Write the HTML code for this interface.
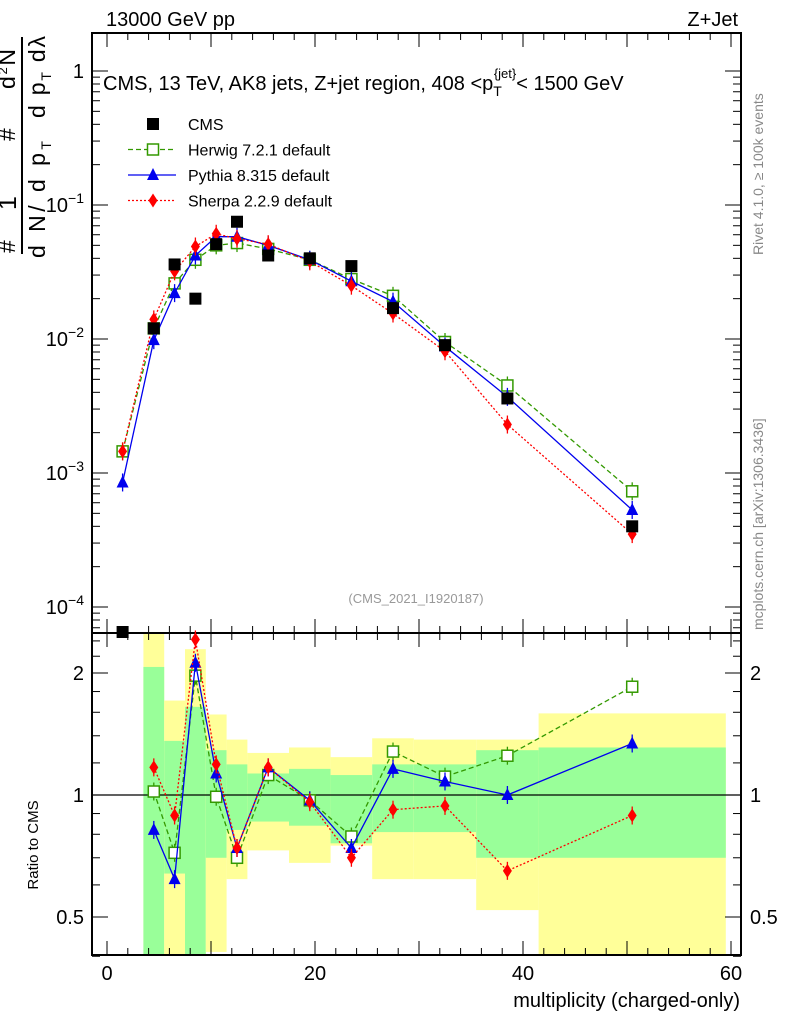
<!DOCTYPE html>
<html><head><meta charset="utf-8"><style>
body{margin:0;background:#fff;}
svg{font-family:"Liberation Sans",sans-serif;display:block}
</style></head><body>
<svg id="c" width="786" height="1024" xmlns="http://www.w3.org/2000/svg">
<text x="106" y="26" font-size="20">13000 GeV pp</text>
<text x="738" y="26" font-size="20" text-anchor="end">Z+Jet</text>
<text x="103" y="90" font-size="20">CMS, 13 TeV, AK8 jets, Z+jet region, 408 &lt;p<tspan font-size="14" dy="6">T</tspan><tspan font-size="13" dy="-18" dx="-8">{jet}</tspan><tspan dy="12">&lt; 1500 GeV</tspan></text>
<text x="416" y="603" font-size="13" fill="#999" text-anchor="middle">(CMS_2021_I1920187)</text>
<text transform="translate(763,255) rotate(-90)" font-size="14" fill="#888">Rivet 4.1.0, ≥ 100k events</text>
<text transform="translate(763,630) rotate(-90)" font-size="14" fill="#888">mcplots.cern.ch [arXiv:1306.3436]</text>
<g font-size="23">
<text transform="translate(15,253) rotate(-90)">#</text>
<text transform="translate(16,210) rotate(-90)" font-size="25">1</text>
<text transform="translate(15,141) rotate(-90)">#</text>
<text transform="translate(15,89) rotate(-90)" textLength="40" lengthAdjust="spacing">d<tspan font-size="13" dy="-8">2</tspan><tspan dy="8">N</tspan></text>
<line x1="22" y1="37" x2="22" y2="254" stroke="#000" stroke-width="2"/>
<text transform="translate(45,258) rotate(-90)" textLength="117" lengthAdjust="spacing">d N/ d p<tspan font-size="14" dy="6">T</tspan></text>
<text transform="translate(45,118) rotate(-90)" textLength="82" lengthAdjust="spacing">d p<tspan font-size="14" dy="6">T</tspan><tspan dy="-6"> dλ</tspan></text>
</g>
<text transform="translate(38,845) rotate(-90)" font-size="15" text-anchor="middle">Ratio to CMS</text>
<text x="740" y="1007" font-size="20" text-anchor="end">multiplicity (charged-only)</text>
<g id="g"></g>
</svg>
<script>
const xs=[1.5,4.5,6.5,8.5,10.5,12.5,15.5,19.5,23.5,27.5,32.5,38.5,50.5];
const cms=[5.5e-5,0.012,0.036,0.020,0.051,0.075,0.042,0.040,0.035,0.017,0.009,0.0036,0.0004];
const herwig=[0.00145,0.012,0.026,0.039,0.050,0.052,0.047,0.039,0.028,0.021,0.0095,0.0045,0.00073];
const pythia=[0.00085,0.0098,0.022,0.042,0.058,0.058,0.050,0.039,0.027,0.019,0.0088,0.0037,0.00053];
const sherpa=[0.00145,0.014,0.032,0.049,0.061,0.056,0.051,0.038,0.025,0.0155,0.0081,0.0023,0.00035];
const rx=[4.5,6.5,8.5,10.5,12.5,15.5,19.5,23.5,27.5,32.5,38.5,50.5];
const rHerwig=[1.02,0.72,1.97,0.99,0.70,1.12,0.97,0.79,1.28,1.11,1.25,1.85];
const rPythia=[0.82,0.62,2.12,1.13,0.74,1.17,0.97,0.74,1.16,1.08,1.0,1.34];
const rSherpa=[1.17,0.89,2.42,1.19,0.74,1.17,0.96,0.70,0.92,0.94,0.65,0.89];
const edges=[3.5,5.5,7.5,9.5,11.5,13.5,17.5,21.5,25.5,29.5,35.5,41.5,59.5];
const yLo=[0.4,0.4,0.4,0.41,0.62,0.73,0.68,0.75,0.62,0.62,0.52,0.4];
const yHi=[2.6,1.71,2.29,1.58,1.37,1.27,1.31,1.24,1.38,1.37,1.37,1.59];
const gLo=[0.4,0.64,0.4,0.70,0.82,0.86,0.84,0.76,0.81,0.81,0.70,0.70];
const gHi=[2.07,1.36,1.65,1.29,1.19,1.13,1.16,1.12,1.19,1.19,1.29,1.31];
const xTicks=[0,20,40,60];
const L=92,R=741,T=33,M=633,B=955;
const X=v=>107+10.4*v;
const Y=v=>71-134*Math.log10(v);
const RY=r=>795-122*Math.log2(r);
const g=document.getElementById('g');let s='';
function cl(y,a,b){return Math.max(a,Math.min(b,y));}
for(let i=0;i<yLo.length;i++){
 const x1=X(edges[i]),x2=X(edges[i+1]);
 const a=cl(RY(yHi[i]),M,B),b=cl(RY(yLo[i]),M,B);
 s+=`<rect x="${x1}" y="${a}" width="${x2-x1}" height="${b-a}" fill="#ffff99"/>`;
 const c=cl(RY(gHi[i]),M,B),d=cl(RY(gLo[i]),M,B);
 s+=`<rect x="${x1}" y="${c}" width="${x2-x1}" height="${d-c}" fill="#99ff99"/>`;
}
s+=`<line x1="${L}" x2="${R}" y1="${RY(1)}" y2="${RY(1)}" stroke="#000" stroke-width="1.3"/>`;
s+=`<rect x="${L}" y="${T}" width="${R-L}" height="${M-T}" fill="none" stroke="#000" stroke-width="2"/>`;
s+=`<rect x="${L}" y="${M}" width="${R-L}" height="${B-M}" fill="none" stroke="#000" stroke-width="2"/>`;
for(let v=0;v<=60;v+=2){const big=v%10==0;const h=big?14:7;const x=X(v);
 s+=`<line x1="${x}" x2="${x}" y1="${T}" y2="${T+h}" stroke="#000"/><line x1="${x}" x2="${x}" y1="${M-h}" y2="${M+h}" stroke="#000"/><line x1="${x}" x2="${x}" y1="${B}" y2="${B-h}" stroke="#000"/>`;}
xTicks.forEach(v=>{s+=`<text x="${X(v)}" y="980" font-size="20" text-anchor="middle">${v}</text>`;});
for(let e=-5;e<=0;e++){for(let k=1;k<10;k++){const v=k*Math.pow(10,e);const y=Y(v);if(y<T||y>M)continue;
 const w=k==1?16:8;s+=`<line x1="${L}" x2="${L+w}" y1="${y}" y2="${y}" stroke="#000"/><line x1="${R}" x2="${R-w}" y1="${y}" y2="${y}" stroke="#000"/>`;}}
[0,1,2,3,4].forEach(i=>{const y=Y(Math.pow(10,-i))+7;
 s+=`<text x="84" y="${y}" font-size="20" text-anchor="end">${i?'10':'1'}${i?`<tspan font-size="14" dy="-9">−${i}</tspan>`:''}</text>`;});
[0.4,0.5,0.6,0.7,0.8,0.9,1,1.2,1.4,1.6,1.8,2,2.2,2.4].forEach(r=>{const y=RY(r);const w=[0.5,1,2].includes(r)?16:8;
 s+=`<line x1="${L}" x2="${L+w}" y1="${y}" y2="${y}" stroke="#000"/><line x1="${R}" x2="${R-w}" y1="${y}" y2="${y}" stroke="#000"/>`;});
[[2,"2"],[1,"1"],[0.5,"0.5"]].forEach(([r,t])=>{const y=RY(r)+7;
 s+=`<text x="84" y="${y}" font-size="20" text-anchor="end">${t}</text><text x="750" y="${y}" font-size="20">${t}</text>`;});
function series(xv,vals,fy,col,dash,mk,name,lo,hi){
 let p=xv.map((x,i)=>`${X(x)},${fy(vals[i])}`).join(' ');
 s+=`<polyline points="${p}" fill="none" stroke="${col}" stroke-width="1.3" stroke-dasharray="${dash}"/>`;
 xv.forEach((x,i)=>{const cx=X(x),cy=fy(vals[i]);if(cy<lo||cy>hi)return;
  s+=`<line x1="${cx}" x2="${cx}" y1="${cy-9}" y2="${cy+9}" stroke="${col}" stroke-width="1.3"/>`;
  s+=mark(mk,cx,cy,col,name);});
}
function mark(mk,cx,cy,col,name){
 if(mk=='sq')return `<rect x="${cx-5.5}" y="${cy-5.5}" width="11" height="11" fill="#fff" stroke="${col}" stroke-width="1.5"/>`;
 if(mk=='tri')return `<polygon points="${cx},${cy-7} ${cx+6},${cy+5} ${cx-6},${cy+5}" fill="${col}"/>`;
 if(mk=='dia')return `<polygon points="${cx},${cy-7} ${cx+4.5},${cy} ${cx},${cy+7} ${cx-4.5},${cy}" fill="${col}"/>`;
 return `<rect x="${cx-6}" y="${cy-6}" width="12" height="12" fill="#000"/>`;
}
series(xs,herwig,Y,'#339900','5,3','sq','herwig',T,M);
series(xs,pythia,Y,'#0000ee','','tri','pythia',T,M);
series(xs,sherpa,Y,'#ff0000','2,2','dia','sherpa',T,M);
xs.forEach((x,i)=>{const cy=Math.min(Y(cms[i]),M-1);s+=mark('cms',X(x),cy,'#000','cms');});
series(rx,rHerwig,RY,'#339900','5,3','sq','ratio-herwig',M,B);
series(rx,rPythia,RY,'#0000ee','','tri','ratio-pythia',M,B);
series(rx,rSherpa,RY,'#ff0000','2,2','dia','ratio-sherpa',M,B);
const leg=[['CMS','cms','#000',''],['Herwig 7.2.1 default','sq','#339900','5,3'],['Pythia 8.315 default','tri','#0000ee',''],['Sherpa 2.2.9 default','dia','#ff0000','2,2']];
leg.forEach((l,i)=>{const y=124+25.5*i;
 if(i)s+=`<line x1="128" x2="176" y1="${y}" y2="${y}" stroke="${l[2]}" stroke-width="1.3" stroke-dasharray="${l[3]}"/>`;
 s+=mark(l[1],153,y,l[2],'legend-marker');
 s+=`<text x="188" y="${y+6}" font-size="16">${l[0]}</text>`;});
g.innerHTML=s;
</script>
</body></html>
